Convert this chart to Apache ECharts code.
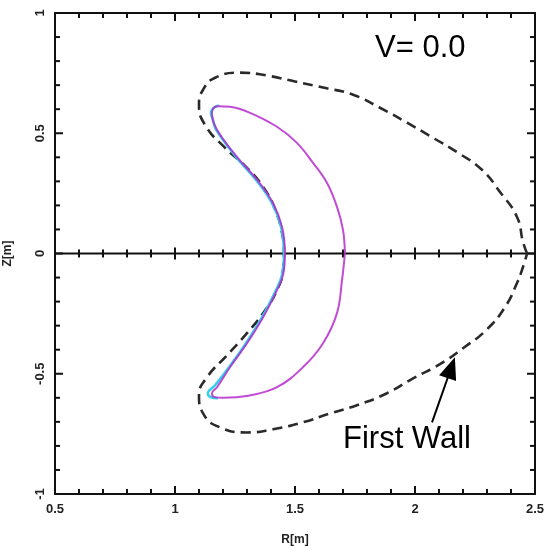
<!DOCTYPE html>
<html>
<head>
<meta charset="utf-8">
<script src="https://cdn.jsdelivr.net/npm/echarts@6/dist/echarts.min.js"></script>
<style>
  html, body { margin: 0; padding: 0; background: #fff; }
  #chart { width: 546px; height: 546px; }
</style>
</head>
<body>
<div id="chart"></div>
<script>
// Axis ranges and tick labels
const rRange = [0.5, 2.5];
const zRange = [-1, 1];
const rTicks = ['0.5', '1', '1.5', '2', '2.5'];
const zTicks = ['-1', '-0.5', '0', '0.5', '1'];
// Tick positions (major every 0.5, minor every 0.1) on the frame and the midplane line
const rTickValues = [0.5, 0.6, 0.7, 0.8, 0.9, 1.0, 1.1, 1.2, 1.3, 1.4, 1.5, 1.6, 1.7, 1.8, 1.9,
  2.0, 2.1, 2.2, 2.3, 2.4, 2.5];
const zTickValues = [-1.0, -0.9, -0.8, -0.7, -0.6, -0.5, -0.4, -0.3, -0.2, -0.1, 0, 0.1, 0.2, 0.3,
  0.4, 0.5, 0.6, 0.7, 0.8, 0.9, 1.0];

// Plasma boundary (R, Z) in metres, traced round the crescent
const plasmaR = [1.708, 1.700, 1.675, 1.633, 1.575, 1.508, 1.425, 1.3125, 1.229, 1.179, 1.158, 1.154,
  1.175, 1.258, 1.342, 1.408, 1.446, 1.458, 1.450, 1.425, 1.367, 1.300, 1.229, 1.175, 1.154, 1.1625,
  1.200, 1.3125, 1.425, 1.533, 1.617, 1.675, 1.696, 1.708];
const plasmaZ = [0, 0.098, 0.194, 0.294, 0.377, 0.460, 0.527, 0.585, 0.610, 0.6125, 0.602, 0.581,
  0.515, 0.402, 0.306, 0.210, 0.110, 0, -0.090, -0.152, -0.265, -0.373, -0.473, -0.556, -0.581, -0.596,
  -0.600, -0.590, -0.556, -0.473, -0.373, -0.248, -0.110, 0];

// Second boundary trace, running along the inboard side between the two tips
const innerR = [1.183, 1.162, 1.150, 1.158, 1.171, 1.254, 1.338, 1.404, 1.442, 1.454, 1.446, 1.421,
  1.363, 1.296, 1.225, 1.167, 1.137, 1.150, 1.179];
const innerZ = [0.615, 0.606, 0.585, 0.556, 0.515, 0.402, 0.306, 0.210, 0.110, 0, -0.090, -0.152,
  -0.265, -0.373, -0.473, -0.548, -0.581, -0.598, -0.602];

// First wall contour (R, Z) in metres
const wallR = [2.467, 2.450, 2.425, 2.354, 2.279, 2.179, 2.075, 1.967, 1.854, 1.742, 1.617, 1.500,
  1.383, 1.271, 1.167, 1.117, 1.100, 1.125, 1.208, 1.300, 1.375, 1.421, 1.446, 1.454,
  1.450, 1.425, 1.367, 1.300, 1.217, 1.133, 1.100, 1.117, 1.1875, 1.300, 1.408, 1.533, 1.646,
  1.758, 1.883, 1.992, 2.104, 2.200, 2.300, 2.375, 2.425, 2.450, 2.467];
const wallZ = [0, 0.048, 0.152, 0.256, 0.348, 0.419, 0.481, 0.544, 0.606, 0.660, 0.690, 0.715,
  0.740, 0.752, 0.731, 0.681, 0.619, 0.535, 0.440, 0.356, 0.265, 0.173, 0.085, 0,
  -0.069, -0.152, -0.248, -0.331, -0.423, -0.515, -0.590, -0.665, -0.723, -0.744, -0.731, -0.702, -0.665,
  -0.631, -0.581, -0.519, -0.460, -0.394, -0.315, -0.223, -0.123, -0.056, 0];

// Pointer from the "First Wall" label to the wall contour (R, Z); the head is centred on arrowHead
const arrowTail = [2.071, -0.702];
const arrowHead = [2.151, -0.475];

const pairs = (xs, ys) => xs.map((x, i) => [x, ys[i]]);
const FONT = "'Liberation Sans', Arial, sans-serif";
const INK = '#111';
const isMajor = (v) => Math.abs(v * 2 - Math.round(v * 2)) < 1e-6;

const chart = echarts.init(document.getElementById('chart'), null, { renderer: 'canvas' });

function frameAxis(extra) {
  return Object.assign({
    type: 'value',
    axisLine: { show: true, onZero: false, lineStyle: { color: INK, width: 2 } },
    axisTick: { show: false },
    minorTick: { show: false },
    splitLine: { show: false },
    minorSplitLine: { show: false },
    axisLabel: { show: false }
  }, extra);
}

// Inward ticks drawn as thin filled bars
function bar(x, y, w, h) {
  return { type: 'rect', shape: { x: x, y: y, width: w, height: h }, style: { fill: INK } };
}

const labelStyle = { fontFamily: FONT, fontWeight: 'bold', fontSize: 13, color: '#222' };
const noteStyle = { fontFamily: FONT, fontWeight: 'normal', fontSize: 31, color: '#000' };

chart.setOption({
  animation: false,
  backgroundColor: '#fff',
  title: [
    { text: 'V= 0.0', left: 375, top: 33, padding: 0, textStyle: noteStyle },
    { text: 'First Wall', left: 343, top: 424, padding: 0, textStyle: noteStyle }
  ],
  grid: { left: 55, top: 13, width: 480, height: 481, containLabel: false, outerBoundsMode: 'none' },
  xAxis: [
    frameAxis({
      position: 'bottom', min: rRange[0], max: rRange[1], interval: 0.5,
      name: 'R[m]', nameLocation: 'middle', nameGap: 40,
      nameTextStyle: { fontFamily: FONT, fontWeight: 'bold', fontSize: 12, color: '#222' },
      axisLabel: Object.assign({
        show: true, margin: 9, showMinLabel: true, showMaxLabel: true,
        formatter: (v) => rTicks[Math.round((v - rRange[0]) / 0.5)]
      }, labelStyle)
    }),
    frameAxis({ position: 'top', min: rRange[0], max: rRange[1], interval: 0.5 })
  ],
  yAxis: [
    frameAxis({
      position: 'left', min: zRange[0], max: zRange[1], interval: 0.5,
      name: 'Z[m]', nameLocation: 'middle', nameGap: 41,
      nameTextStyle: { fontFamily: FONT, fontWeight: 'bold', fontSize: 12, color: '#222' },
      axisLabel: Object.assign({
        show: true, margin: 8, rotate: 90, showMinLabel: true, showMaxLabel: true,
        formatter: (v) => zTicks[Math.round((v - zRange[0]) / 0.5)]
      }, labelStyle)
    }),
    frameAxis({ position: 'right', min: zRange[0], max: zRange[1], interval: 0.5 })
  ],
  series: [
    {
      // midplane line
      name: 'midplane', type: 'line', xAxisIndex: 0, yAxisIndex: 0,
      data: [[rRange[0], 0], [rRange[1], 0]], showSymbol: false, silent: true,
      lineStyle: { color: INK, width: 2 }, z: 2
    },
    {
      // R ticks: bottom and top frame (inward) and across the midplane
      name: 'rTicks', type: 'custom', xAxisIndex: 0, yAxisIndex: 0,
      data: rTickValues.map((v) => [v, 0]), silent: true, z: 2,
      renderItem: function (params, api) {
        const v = api.value(0);
        const major = isMajor(v);
        const L = major ? 8 : 5, M = major ? 6 : 4;
        const b = api.coord([v, zRange[0]]);
        const t = api.coord([v, zRange[1]]);
        const m = api.coord([v, 0]);
        return { type: 'group', children: [
          bar(b[0] - 1, b[1] - L, 2, L),
          bar(t[0] - 1, t[1], 2, L),
          bar(m[0] - 1, m[1] - M, 2, 2 * M)
        ] };
      }
    },
    {
      // Z ticks: left and right frame (inward)
      name: 'zTicks', type: 'custom', xAxisIndex: 0, yAxisIndex: 0,
      data: zTickValues.map((v) => [rRange[0], v]), silent: true, z: 2,
      renderItem: function (params, api) {
        const v = api.value(1);
        const L = isMajor(v) ? 8 : 5;
        const l = api.coord([rRange[0], v]);
        const r = api.coord([rRange[1], v]);
        return { type: 'group', children: [
          bar(l[0], l[1] - 1, L, 2),
          bar(r[0] - L, r[1] - 1, L, 2)
        ] };
      }
    },
    {
      name: 'wall', type: 'line', xAxisIndex: 0, yAxisIndex: 0,
      data: pairs(wallR, wallZ), showSymbol: false, smooth: 0.5,
      lineStyle: { color: '#2a2a2a', width: 2.6, type: [10, 6] }, z: 3,
      markLine: {
        silent: true, animation: false,
        symbol: ['none', 'triangle'], symbolSize: [18, 22],
        lineStyle: { color: '#000', width: 2, type: 'solid' },
        itemStyle: { color: '#000' },
        label: { show: false },
        emphasis: { disabled: true },
        data: [[{ coord: arrowTail }, { coord: arrowHead }]]
      }
    },
    {
      name: 'inner', type: 'line', xAxisIndex: 0, yAxisIndex: 0,
      data: pairs(innerR, innerZ), showSymbol: false, smooth: 0.4,
      lineStyle: { color: '#33d0ea', width: 2.6 }, z: 4
    },
    {
      name: 'plasma', type: 'line', xAxisIndex: 0, yAxisIndex: 0,
      data: pairs(plasmaR, plasmaZ), showSymbol: false, smooth: 0.4,
      lineStyle: { color: '#b52ccc', width: 2, opacity: 0.85 }, z: 5
    }
  ]
});
</script>
</body>
</html>
